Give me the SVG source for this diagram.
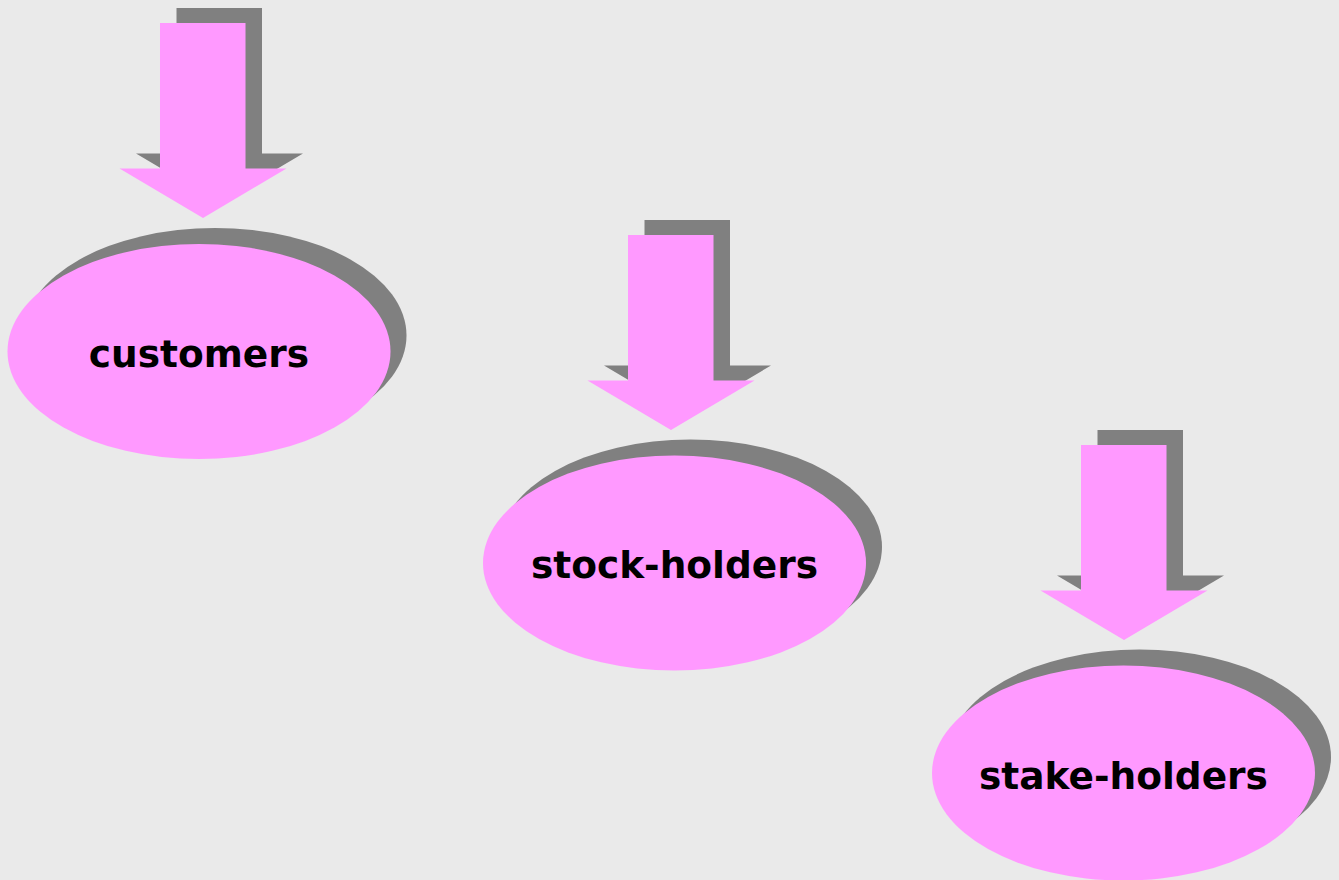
<svg xmlns="http://www.w3.org/2000/svg" xmlns:xlink="http://www.w3.org/1999/xlink" width="1339" height="880" viewBox="0 0 1339 880">
  <style>
    .pink { fill: #FF99FF; }
    .shadow { fill: #808080; }
    .label { font-family: "DejaVu Sans", Verdana, sans-serif; font-weight: bold; font-size: 37.5px; fill: #000; text-anchor: middle; }
  </style>
  <defs>
    <path id="arrow" d="M0,0 H85.5 V145.5 H126.5 L43,195 L-40.5,145.5 H0 Z"/>
    <ellipse id="oval" cx="0" cy="0" rx="191.5" ry="107.5"/>
  </defs>
  <rect width="1339" height="880" fill="#EAEAEA"/>
  <g id="connectors">
    <g id="arrow-customers">
      <use xlink:href="#arrow" class="shadow" x="176.5" y="8"/>
      <use xlink:href="#arrow" class="pink" x="160" y="23"/>
    </g>
    <g id="arrow-stockholders">
      <use xlink:href="#arrow" class="shadow" x="644.5" y="220"/>
      <use xlink:href="#arrow" class="pink" x="628" y="235"/>
    </g>
    <g id="arrow-stakeholders">
      <use xlink:href="#arrow" class="shadow" x="1097.5" y="430"/>
      <use xlink:href="#arrow" class="pink" x="1081" y="445"/>
    </g>
  </g>
  <g id="node-customers">
    <use xlink:href="#oval" class="shadow" x="215" y="335.5"/>
    <use xlink:href="#oval" class="pink" x="199" y="351.5"/>
    <text class="label" x="199" y="367">customers</text>
  </g>
  <g id="node-stockholders">
    <use xlink:href="#oval" class="shadow" x="690.5" y="547"/>
    <use xlink:href="#oval" class="pink" x="674.5" y="563"/>
    <text class="label" x="674.5" y="578">stock-holders</text>
  </g>
  <g id="node-stakeholders">
    <use xlink:href="#oval" class="shadow" x="1139.5" y="757"/>
    <use xlink:href="#oval" class="pink" x="1123.5" y="773"/>
    <text class="label" x="1123.5" y="789">stake-holders</text>
  </g>
</svg>
